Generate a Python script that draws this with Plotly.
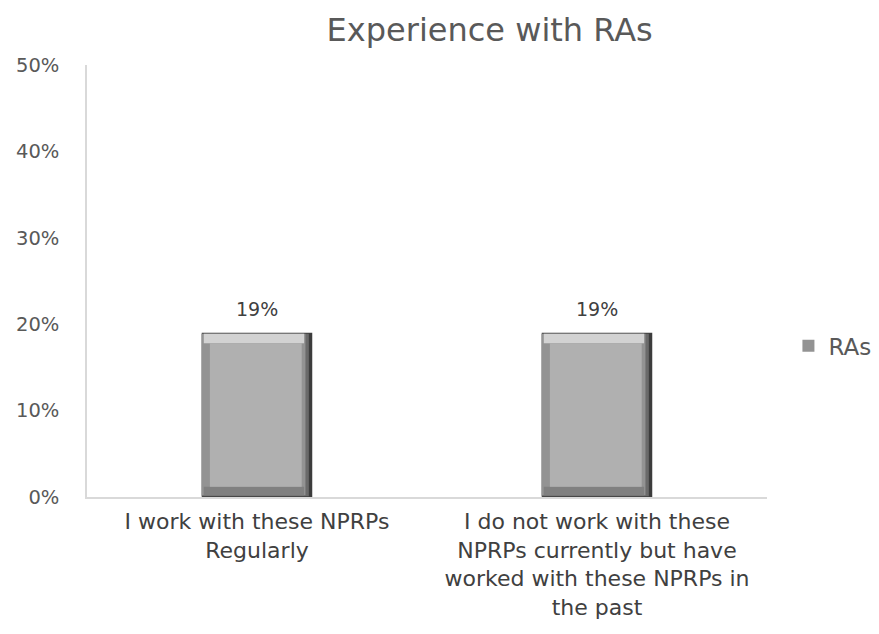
import plotly.graph_objects as go

categories = ["I work with these NPRPs<br>Regularly",
              "I do not work with these<br>NPRPs currently but have<br>worked with these NPRPs in<br>the past"]
values = [0.19, 0.19]
labels = ["19%", "19%"]
series_name = "RAs"
y_ticks = [0, 0.1, 0.2, 0.3, 0.4, 0.5]

font_family = "DejaVu Sans"
W = 0.325
fig = go.Figure()

# dark outer shell (right shadow)
fig.add_trace(go.Bar(x=categories, y=values, width=W, offset=-W / 2,
                     marker=dict(color="#3c3c3c", line=dict(width=0)),
                     showlegend=False, hoverinfo="skip"))
# mid-dark right gradient step
fig.add_trace(go.Bar(x=categories, y=[v - 0.002 for v in values], base=[0.001, 0.001],
                     width=W - 0.01, offset=-W / 2,
                     marker=dict(color="#6a6a6a", line=dict(width=0)),
                     showlegend=False, hoverinfo="skip"))
# mid-gray left bevel (legend entry)
fig.add_trace(go.Bar(x=categories, y=[v - 0.003 for v in values], base=[0.002, 0.002],
                     width=W - 0.02, offset=-W / 2,
                     name=series_name,
                     marker=dict(color="#939393", line=dict(width=0)),
                     showlegend=True))
# top highlight bevel
fig.add_trace(go.Bar(x=categories, y=[0.011, 0.011], base=[v - 0.012 for v in values],
                     width=W - 0.03, offset=-W / 2 + 0.006,
                     marker=dict(color="#d2d2d2", line=dict(width=0)),
                     showlegend=False, hoverinfo="skip"))
# bottom darker bevel
fig.add_trace(go.Bar(x=categories, y=[0.01, 0.01], base=[0.002, 0.002],
                     width=W - 0.03, offset=-W / 2 + 0.006,
                     marker=dict(color="#808080", line=dict(width=0)),
                     showlegend=False, hoverinfo="skip"))
# face
fig.add_trace(go.Bar(x=categories, y=[v - 0.024 for v in values], base=[0.012, 0.012],
                     width=W - 0.055, offset=-W / 2 + 0.024,
                     marker=dict(color="#b0b0b0", line=dict(width=0)),
                     showlegend=False, hoverinfo="skip"))

annotations = [dict(x=c, y=v, text=t, showarrow=False, yanchor="bottom", yshift=11,
                    font=dict(size=19, color="#404040", family=font_family))
               for c, v, t in zip(categories, values, labels)]

fig.update_layout(
    barmode="overlay",
    width=879, height=634,
    paper_bgcolor="white", plot_bgcolor="white",
    margin=dict(l=79, r=119, t=57, b=145),
    title=dict(text="Experience with RAs", x=0.548, xanchor="center", y=0.966, yanchor="middle",
               font=dict(size=32, color="#595959", family=font_family)),
    font=dict(family=font_family, color="#595959"),
    annotations=annotations,
    xaxis=dict(showline=True, linecolor="#d9d9d9", linewidth=1.5, ticks="",
               tickfont=dict(size=22, color="#404040"), showgrid=False,
               ticklabelstandoff=4, automargin=False),
    yaxis=dict(range=[0, 0.5], tickvals=y_ticks, tickformat=".0%", showgrid=False,
               showline=True, linecolor="#d9d9d9", linewidth=1.5, ticks="",
               tickfont=dict(size=19.5, color="#595959"), ticklabelstandoff=22,
               automargin=False),
    legend=dict(x=1.03, y=0.35, xanchor="left", yanchor="middle",
                font=dict(size=23, color="#595959"), itemwidth=30),
    showlegend=True,
)

fig.write_html("out.html")
